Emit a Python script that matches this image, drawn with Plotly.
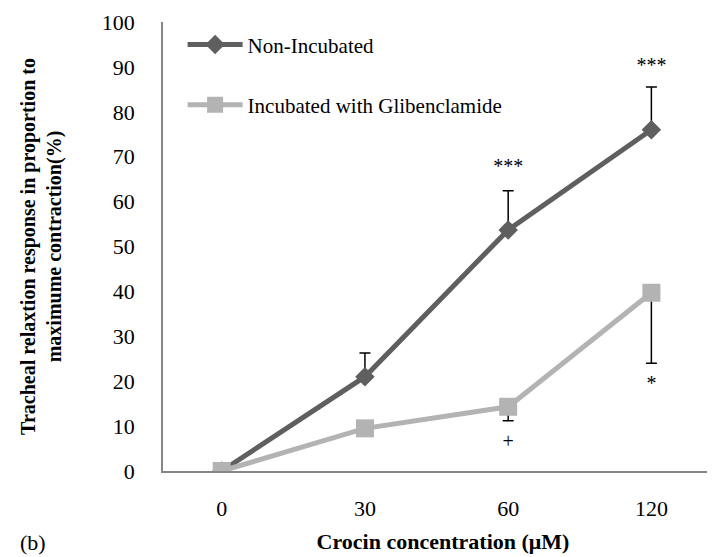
import plotly.graph_objects as go

categories = ["0", "30", "60", "120"]
non_incubated = [0, 21.0, 53.7, 76.0]
non_incubated_err_plus = [0, 5.3, 8.7, 9.5]
incubated = [0, 9.5, 14.3, 39.7]
incubated_err_minus = [0, 0, 3.1, 15.7]
y_ticks = [0, 10, 20, 30, 40, 50, 60, 70, 80, 90, 100]

sig_labels = ["***", "***", "+", "*"]
sig_x = ["60", "120", "60", "120"]
sig_y = [67.5, 90.0, 6.3, 19.1]

FONT = "Liberation Serif"
DARK = "#5f5f5f"
LIGHT = "#b3b3b3"

fig = go.Figure()
fig.add_trace(go.Scatter(
    x=categories, y=non_incubated, name="Non-Incubated",
    mode="lines+markers", legendgroup="a",
    line=dict(color=DARK, width=5),
    marker=dict(symbol="diamond", size=15, color=DARK),
    error_y=dict(type="data", symmetric=False, array=non_incubated_err_plus,
                 arrayminus=[0] * 4, color="black", thickness=1.5, width=5.5),
))
fig.add_trace(go.Scatter(
    x=categories, y=incubated, name="Incubated with Glibenclamide",
    mode="lines+markers", legendgroup="b",
    line=dict(color=LIGHT, width=5),
    marker=dict(symbol="square", size=18, color=LIGHT),
    error_y=dict(type="data", symmetric=False, array=[0] * 4,
                 arrayminus=incubated_err_minus, color="black", thickness=1.5, width=5.5),
))
fig.add_trace(go.Scatter(
    x=sig_x, y=sig_y, text=sig_labels, mode="text", showlegend=False,
    textposition="middle center", hoverinfo="skip",
    textfont=dict(family=FONT, size=20, color="#000000"),
))

fig.update_layout(
    width=715, height=557,
    margin=dict(l=155, r=0, t=14, b=94),
    paper_bgcolor="white", plot_bgcolor="white",
    font=dict(family=FONT, size=22, color="black"),
    showlegend=True,
    legend=dict(x=0.035, y=0.995, xanchor="left", yanchor="top",
                bgcolor="rgba(0,0,0,0)", font=dict(family=FONT, size=21),
                tracegroupgap=30, itemwidth=55, traceorder="grouped"),
    xaxis=dict(type="category", categoryorder="array", categoryarray=categories,
               range=[-0.41, 3.5], showgrid=False, zeroline=False,
               showline=True, linecolor="#868686", linewidth=1.5,
               ticks="", ticklabelstandoff=17,
               title=dict(text="<b>Crocin concentration (μM)</b>", standoff=13,
                          font=dict(family=FONT, size=22))),
    yaxis=dict(range=[0, 100], tickvals=y_ticks, showgrid=False, zeroline=False,
               showline=True, linecolor="#868686", linewidth=1.5,
               ticks="", ticklabelstandoff=22,
               title=dict(text="<b>Tracheal relaxtion response in proportion to<br>maximume contraction(%)</b>",
                          standoff=35, font=dict(family=FONT, size=20))),
    annotations=[dict(xref="paper", yref="paper", x=-0.259, y=-0.126, xanchor="left",
                      yanchor="top", text="(b)", showarrow=False,
                      font=dict(family=FONT, size=22, color="black"))],
)

fig.write_html("out.html")
